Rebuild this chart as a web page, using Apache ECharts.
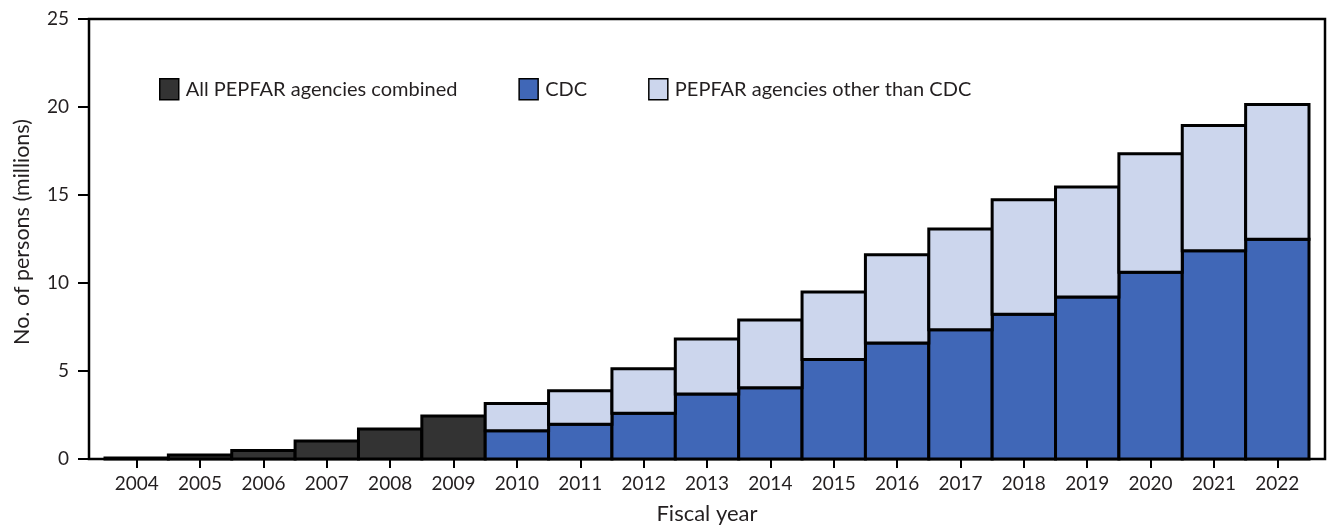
<!DOCTYPE html>
<html>
<head>
<meta charset="utf-8">
<script src="https://cdn.jsdelivr.net/npm/echarts@6/dist/echarts.min.js"></script>
<style>
  html, body { margin: 0; padding: 0; background: #fff; }
  #chart { width: 1327px; height: 527px; }
</style>
</head>
<body>
<div id="chart"></div>
<script>
// fiscal years on the x axis
var years = ['2004', '2005', '2006', '2007', '2008', '2009', '2010', '2011', '2012',
    '2013', '2014', '2015', '2016', '2017', '2018', '2019', '2020', '2021', '2022'];

// millions of persons
var allAgencies = [0.06, 0.23, 0.49, 1.02, 1.70, 2.44, 0, 0, 0,
    0, 0, 0, 0, 0, 0, 0, 0, 0, 0];
var cdc = [0, 0, 0, 0, 0, 0, 1.61, 1.97, 2.60,
    3.69, 4.05, 5.66, 6.59, 7.35, 8.22, 9.20, 10.61, 11.83, 12.48];
var otherAgencies = [0, 0, 0, 0, 0, 0, 1.55, 1.91, 2.53,
    3.13, 3.85, 3.83, 5.02, 5.72, 6.51, 6.25, 6.74, 7.12, 7.66];

var yTicks = [0, 5, 10, 15, 20, 25];

var FONT = 'Lato';
var TXT = '#231f20';

var seriesDefs = [
    { name: 'All PEPFAR agencies combined', color: '#333333', values: allAgencies },
    { name: 'CDC', color: '#4067b7', values: cdc },
    { name: 'PEPFAR agencies other than CDC', color: '#ccd6ed', values: otherAgencies }
];

// stack by hand: each item is [category index, base, top]
var base = years.map(function() { return 0; });
var series = seriesDefs.map(function(def) {
    var data = [];
    def.values.forEach(function(v, i) {
        if (v > 0) {
            data.push([i, base[i], base[i] + v]);
            base[i] += v;
        }
    });
    return {
        name: def.name,
        type: 'custom',
        xAxisIndex: 1,
        yAxisIndex: 1,
        itemStyle: { color: def.color },
        encode: { x: 0, y: [1, 2] },
        renderItem: function(params, api) {
            var i = api.value(0);
            var p0 = api.coord([i, api.value(1)]);
            var p1 = api.coord([i, api.value(2)]);
            var w = api.size([1, 0])[0];
            return {
                type: 'rect',
                shape: { x: p0[0] - w / 2, y: p1[1], width: w, height: p0[1] - p1[1] },
                style: { fill: def.color, stroke: '#000', lineWidth: 3 }
            };
        },
        data: data
    };
});

var chart = echarts.init(document.getElementById('chart'));

chart.setOption({
    animation: false,
    textStyle: { fontFamily: FONT, color: TXT },
    legend: {
        left: 154,
        top: 73,
        icon: 'rect',
        itemWidth: 19,
        itemHeight: 21,
        itemGap: 61,
        textStyle: { fontSize: 20, color: TXT, fontFamily: FONT, padding: [0, 0, 0, 2] },
        itemStyle: { borderColor: '#000', borderWidth: 1.5 },
        data: seriesDefs.map(function(d) { return d.name; })
    },
    grid: [
        // outer frame with the value axis
        { left: 89, right: 2, top: 19, bottom: 68, outerBoundsMode: 'none', show: true, borderColor: '#000', borderWidth: 2.5, backgroundColor: 'transparent' },
        // bar area, inset so the bars start away from the frame
        { left: 105, right: 18, top: 19, bottom: 68, outerBoundsMode: 'none' }
    ],
    xAxis: [
        { gridIndex: 0, type: 'value', min: 0, max: 1, show: false },
        {
            gridIndex: 1,
            type: 'category',
            data: years,
            name: 'Fiscal year',
            nameLocation: 'middle',
            nameGap: 44,
            nameTextStyle: { fontSize: 22, color: TXT, fontFamily: FONT },
            axisLine: { show: false },
            axisTick: { show: true, alignWithLabel: true, length: 9, lineStyle: { color: '#000', width: 2 } },
            axisLabel: { fontSize: 19, color: TXT, margin: 15, fontFamily: FONT }
        }
    ],
    yAxis: [
        {
            gridIndex: 0,
            type: 'value',
            min: 0,
            max: 25,
            interval: 5,
            name: 'No. of persons (millions)',
            nameLocation: 'middle',
            nameGap: 56,
            nameTextStyle: { fontSize: 21.5, color: TXT, fontFamily: FONT, padding: [0, 0, 0, 14] },
            axisLine: { show: false },
            axisTick: { show: true, length: 11, lineStyle: { color: '#000', width: 2 } },
            axisLabel: {
                fontSize: 19, color: TXT, margin: 20, fontFamily: FONT,
                formatter: function(v) { return yTicks.indexOf(v) >= 0 ? String(v) : ''; }
            },
            splitLine: { show: false }
        },
        { gridIndex: 1, type: 'value', min: 0, max: 25, show: false }
    ],
    series: series
});
</script>
</body>
</html>
